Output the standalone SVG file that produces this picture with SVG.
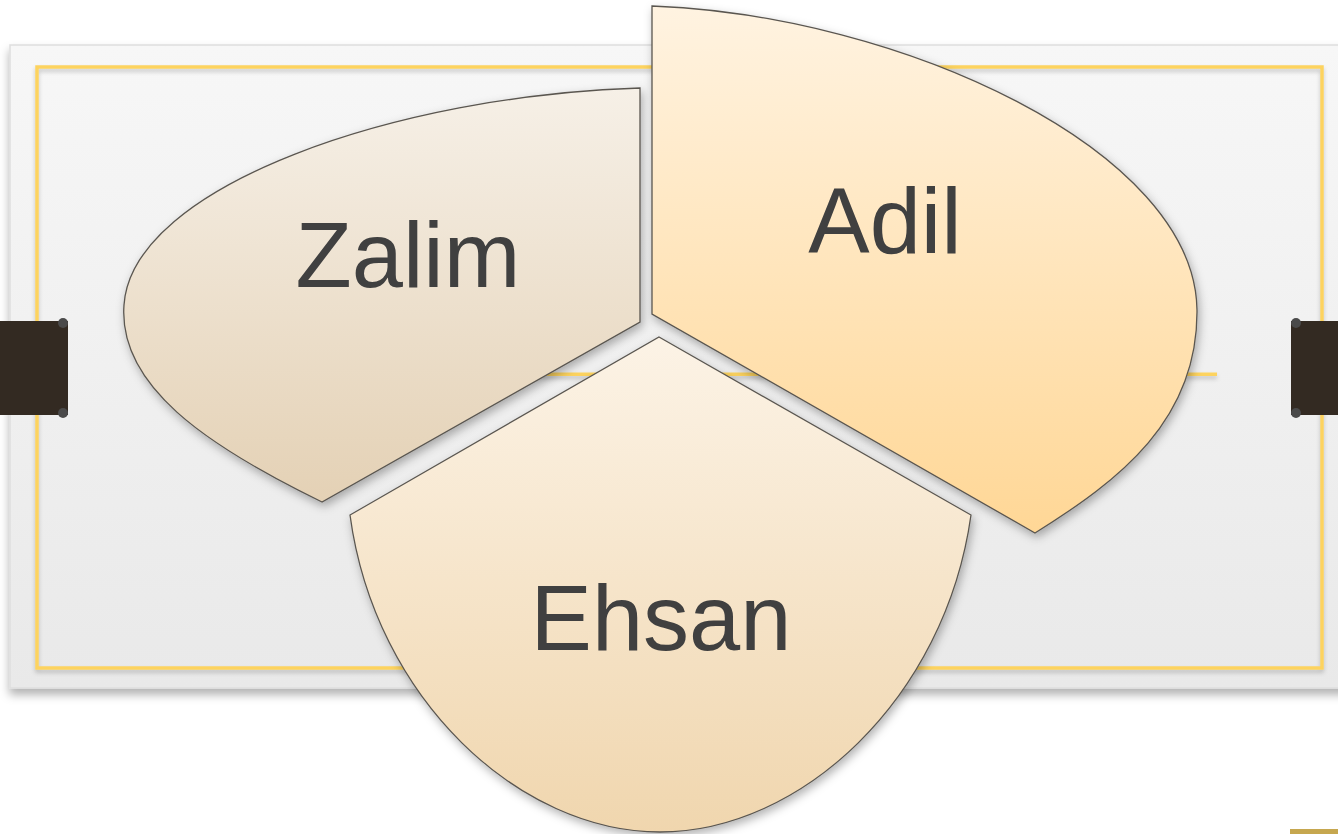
<svg xmlns="http://www.w3.org/2000/svg" width="1338" height="834" viewBox="0 0 1338 834">
  <defs>
    <linearGradient id="paper" x1="0" y1="0" x2="0" y2="1">
      <stop offset="0" stop-color="#f7f7f7"/>
      <stop offset="1" stop-color="#e9e9e9"/>
    </linearGradient>
    <linearGradient id="gZalim" x1="0" y1="0" x2="0" y2="1">
      <stop offset="0" stop-color="#f6f0e7"/>
      <stop offset="1" stop-color="#e4d1b5"/>
    </linearGradient>
    <linearGradient id="gAdil" x1="0" y1="0" x2="0" y2="1">
      <stop offset="0" stop-color="#fff3e1"/>
      <stop offset="1" stop-color="#ffd796"/>
    </linearGradient>
    <linearGradient id="gEhsan" x1="0" y1="0" x2="0" y2="1">
      <stop offset="0" stop-color="#fcf3e6"/>
      <stop offset="1" stop-color="#f0d6ae"/>
    </linearGradient>
    <filter id="cardShadow" x="-5%" y="-5%" width="110%" height="115%">
      <feDropShadow dx="0" dy="6" stdDeviation="5" flood-color="#000" flood-opacity="0.3"/>
    </filter>
    <filter id="sliceShadow" x="-10%" y="-10%" width="120%" height="120%">
      <feDropShadow dx="2" dy="4" stdDeviation="5" flood-color="#000" flood-opacity="0.3"/>
    </filter>
    <filter id="lineShadow" filterUnits="userSpaceOnUse" x="0" y="0" width="1338" height="834">
      <feDropShadow dx="0" dy="3" stdDeviation="2" flood-color="#000" flood-opacity="0.2"/>
    </filter>
  </defs>
  <style>
    .slice { stroke: #5a5650; stroke-width: 1.3; filter: url(#sliceShadow); }
    .label { font-family: "Liberation Sans", Arial, sans-serif; font-size: 92px; fill: #404040; text-anchor: middle; }
    .gold { fill: none; stroke: #fdd35f; stroke-width: 3.5; }
    .tab { fill: #332a22; }
    .knob { fill: #4a4a4a; }
  </style>

  <rect width="1338" height="834" fill="#ffffff"/>

  <!-- paper card with gold frame -->
  <g id="card">
    <rect x="10" y="45" width="1340" height="643" fill="url(#paper)" stroke="#dedede" stroke-width="1.5" filter="url(#cardShadow)"/>
    <rect x="37" y="67" width="1285" height="601" class="gold" filter="url(#lineShadow)"/>
    <rect x="500" y="372.5" width="717" height="3.5" fill="#fdd35f" filter="url(#lineShadow)"/>
  </g>

  <!-- dark side tabs -->
  <g id="tabs">
    <rect x="0" y="321" width="68" height="94" class="tab"/>
    <circle cx="63" cy="323" r="5" class="knob"/>
    <circle cx="63" cy="413" r="5" class="knob"/>
    <rect x="1291" y="321" width="47" height="94" class="tab"/>
    <circle cx="1296" cy="323" r="5" class="knob"/>
    <circle cx="1296" cy="413" r="5" class="knob"/>
  </g>

  <rect x="1290" y="829" width="48" height="5" fill="#c6a74f"/>

  <g id="zalim">
    <path class="slice" fill="url(#gZalim)" d="M640,88 L640,322 L322,502 C205,445 118,385 124,305 C132,185 400,95 640,88 Z"/>
    <text class="label" x="408" y="287">Zalim</text>
  </g>

  <g id="adil">
    <path class="slice" fill="url(#gAdil)" d="M652,6 L652,314 L1035,533 C1120,480 1198,420 1197,310 C1195,150 900,15 652,6 Z"/>
    <text class="label" x="885" y="253">Adil</text>
  </g>

  <g id="ehsan">
    <path class="slice" fill="url(#gEhsan)" d="M659,337 L971,515 C945,700 800,832 660,832 C520,832 375,700 350,515 Z"/>
    <text class="label" x="661" y="650">Ehsan</text>
  </g>
</svg>
